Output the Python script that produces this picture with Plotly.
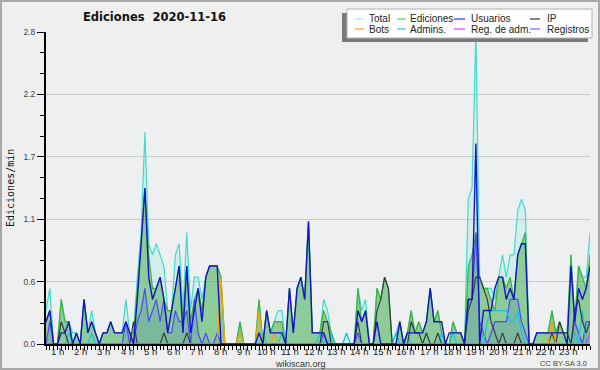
import plotly.graph_objects as go

# ---- data: edits per minute, 10-minute steps over the day (144 points) ----
hour_labels = [f"{h} h" for h in range(1, 24)]

total = [
    0.3, 0.5, 0.0, 0.0, 0.4, 0.2,   0.2, 0.1, 0.1, 0.0, 0.4, 0.1,
    0.3, 0.1, 0.0, 0.1, 0.1, 0.2,   0.1, 0.1, 0.1, 0.4, 0.1, 0.1,
    0.6, 1.0, 1.9, 0.9, 0.8, 0.9,   0.8, 0.7, 0.3, 0.3, 0.8, 0.9,
    0.3, 1.0, 0.3, 0.6, 0.6, 0.4,   0.6, 0.7, 0.7, 0.7, 0.6, 0.0,
    0.0, 0.0, 0.0, 0.2, 0.0, 0.0,   0.0, 0.0, 0.4, 0.0, 0.3, 0.1,
    0.2, 0.3, 0.3, 0.0, 0.5, 0.1,   0.5, 0.6, 0.4, 1.1, 0.1, 0.1,
    0.1, 0.4, 0.3, 0.1, 0.0, 0.0,   0.0, 0.1, 0.0, 0.0, 0.5, 0.3,
    0.4, 0.0, 0.0, 0.5, 0.4, 0.6,   0.5, 0.0, 0.1, 0.2, 0.0, 0.1,
    0.3, 0.1, 0.2, 0.1, 0.2, 0.5,   0.2, 0.3, 0.1, 0.0, 0.0, 0.2,
    0.1, 0.1, 0.0, 1.3, 1.4, 2.8,   0.6, 0.5, 0.5, 0.5, 0.4, 0.6,
    0.8, 0.6, 0.8, 0.8, 1.2, 1.3,   1.2, 0.0, 0.0, 0.1, 0.1, 0.1,
    0.1, 0.3, 0.1, 0.2, 0.1, 0.1,   0.8, 0.2, 0.7, 0.6, 0.6, 1.0,
]
ediciones = [
    0.2, 0.3, 0.0, 0.0, 0.4, 0.2,   0.2, 0.0, 0.1, 0.0, 0.4, 0.1,
    0.2, 0.1, 0.0, 0.1, 0.1, 0.2,   0.1, 0.1, 0.1, 0.2, 0.1, 0.1,
    0.5, 0.9, 1.4, 0.8, 0.5, 0.5,   0.6, 0.4, 0.3, 0.3, 0.5, 0.7,
    0.2, 0.7, 0.2, 0.4, 0.5, 0.3,   0.6, 0.7, 0.7, 0.7, 0.6, 0.0,
    0.0, 0.0, 0.0, 0.2, 0.0, 0.0,   0.0, 0.0, 0.4, 0.0, 0.3, 0.1,
    0.2, 0.2, 0.2, 0.0, 0.5, 0.1,   0.5, 0.6, 0.4, 1.1, 0.1, 0.1,
    0.1, 0.3, 0.2, 0.1, 0.0, 0.0,   0.0, 0.0, 0.0, 0.0, 0.5, 0.2,
    0.3, 0.0, 0.0, 0.5, 0.4, 0.6,   0.5, 0.0, 0.0, 0.2, 0.0, 0.1,
    0.3, 0.1, 0.2, 0.1, 0.2, 0.5,   0.2, 0.3, 0.1, 0.0, 0.0, 0.2,
    0.1, 0.1, 0.0, 0.7, 0.8, 1.0,   0.6, 0.5, 0.5, 0.4, 0.3, 0.6,
    0.6, 0.5, 0.6, 0.4, 0.8, 0.9,   1.0, 0.0, 0.0, 0.1, 0.1, 0.1,
    0.1, 0.3, 0.1, 0.2, 0.1, 0.1,   0.8, 0.2, 0.7, 0.6, 0.5, 0.8,
]
usuarios = [
    0.2, 0.3, 0.0, 0.0, 0.1, 0.1,   0.2, 0.0, 0.1, 0.0, 0.4, 0.1,
    0.2, 0.1, 0.0, 0.1, 0.1, 0.2,   0.1, 0.1, 0.1, 0.2, 0.1, 0.0,
    0.4, 0.9, 1.4, 0.6, 0.4, 0.5,   0.6, 0.4, 0.1, 0.3, 0.5, 0.7,
    0.1, 0.7, 0.1, 0.3, 0.5, 0.2,   0.6, 0.7, 0.7, 0.7, 0.0, 0.0,
    0.0, 0.0, 0.0, 0.0, 0.0, 0.0,   0.0, 0.0, 0.1, 0.0, 0.3, 0.1,
    0.1, 0.1, 0.1, 0.0, 0.5, 0.1,   0.5, 0.6, 0.4, 1.1, 0.1, 0.1,
    0.1, 0.1, 0.0, 0.0, 0.0, 0.0,   0.0, 0.0, 0.0, 0.0, 0.3, 0.2,
    0.3, 0.0, 0.0, 0.2, 0.0, 0.0,   0.0, 0.0, 0.0, 0.2, 0.0, 0.1,
    0.1, 0.1, 0.1, 0.1, 0.2, 0.5,   0.2, 0.2, 0.2, 0.0, 0.1, 0.1,
    0.1, 0.1, 0.0, 0.4, 0.4, 1.8,   0.0, 0.3, 0.3, 0.3, 0.5, 0.6,
    0.6, 0.4, 0.5, 0.4, 0.8, 0.9,   0.9, 0.0, 0.0, 0.1, 0.1, 0.1,
    0.1, 0.1, 0.1, 0.1, 0.1, 0.0,   0.7, 0.2, 0.5, 0.4, 0.5, 0.7,
]
ip = [
    0.0, 0.0, 0.0, 0.0, 0.2, 0.1,   0.0, 0.0, 0.0, 0.0, 0.0, 0.0,
    0.0, 0.0, 0.0, 0.0, 0.0, 0.0,   0.0, 0.0, 0.0, 0.0, 0.0, 0.2,
    0.0, 0.0, 0.0, 0.0, 0.0, 0.0,   0.0, 0.1, 0.0, 0.0, 0.0, 0.0,
    0.0, 0.1, 0.0, 0.0, 0.0, 0.0,   0.0, 0.0, 0.0, 0.0, 0.0, 0.0,
    0.0, 0.0, 0.0, 0.0, 0.0, 0.0,   0.0, 0.0, 0.0, 0.0, 0.0, 0.0,
    0.0, 0.0, 0.0, 0.0, 0.0, 0.0,   0.0, 0.0, 0.0, 0.0, 0.0, 0.0,
    0.0, 0.2, 0.2, 0.0, 0.0, 0.0,   0.0, 0.0, 0.0, 0.0, 0.2, 0.0,
    0.0, 0.0, 0.0, 0.3, 0.4, 0.6,   0.5, 0.0, 0.0, 0.0, 0.0, 0.0,
    0.2, 0.1, 0.1, 0.0, 0.1, 0.0,   0.0, 0.1, 0.0, 0.0, 0.0, 0.0,
    0.0, 0.0, 0.0, 0.3, 0.4, 0.6,   0.6, 0.5, 0.4, 0.2, 0.1, 0.0,
    0.1, 0.0, 0.0, 0.0, 0.1, 0.0,   0.0, 0.0, 0.0, 0.0, 0.0, 0.0,
    0.0, 0.1, 0.0, 0.2, 0.1, 0.1,   0.0, 0.3, 0.4, 0.2, 0.1, 0.2,
]
registros = [
    0.0, 0.2, 0.0, 0.0, 0.0, 0.0,   0.0, 0.0, 0.0, 0.0, 0.0, 0.0,
    0.0, 0.0, 0.0, 0.0, 0.0, 0.0,   0.0, 0.0, 0.0, 0.2, 0.0, 0.0,
    0.2, 0.3, 0.5, 0.2, 0.3, 0.4,   0.2, 0.4, 0.1, 0.1, 0.3, 0.2,
    0.2, 0.3, 0.0, 0.4, 0.1, 0.0,   0.1, 0.0, 0.0, 0.1, 0.0, 0.0,
    0.0, 0.0, 0.0, 0.0, 0.0, 0.0,   0.0, 0.0, 0.0, 0.0, 0.0, 0.0,
    0.0, 0.0, 0.0, 0.0, 0.0, 0.0,   0.0, 0.0, 0.0, 0.0, 0.0, 0.0,
    0.0, 0.1, 0.0, 0.0, 0.0, 0.0,   0.0, 0.0, 0.0, 0.0, 0.1, 0.0,
    0.0, 0.0, 0.0, 0.0, 0.0, 0.0,   0.0, 0.0, 0.0, 0.0, 0.0, 0.0,
    0.0, 0.0, 0.0, 0.0, 0.0, 0.0,   0.0, 0.0, 0.0, 0.0, 0.0, 0.0,
    0.0, 0.0, 0.0, 0.4, 0.4, 1.0,   0.2, 0.1, 0.0, 0.1, 0.2, 0.2,
    0.2, 0.2, 0.4, 0.4, 0.4, 0.2,   0.1, 0.0, 0.0, 0.0, 0.0, 0.0,
    0.0, 0.0, 0.0, 0.0, 0.0, 0.0,   0.0, 0.2, 0.1, 0.0, 0.2, 0.2,
]
admins = [
    0.0, 0.0, 0.0, 0.0, 0.0, 0.0,   0.1, 0.0, 0.0, 0.0, 0.0, 0.0,
    0.1, 0.0, 0.0, 0.0, 0.0, 0.0,   0.0, 0.0, 0.0, 0.0, 0.0, 0.0,
    0.0, 0.0, 0.0, 0.0, 0.0, 0.0,   0.0, 0.0, 0.0, 0.0, 0.0, 0.0,
    0.0, 0.0, 0.0, 0.0, 0.0, 0.0,   0.0, 0.0, 0.0, 0.0, 0.0, 0.0,
    0.0, 0.0, 0.0, 0.0, 0.0, 0.0,   0.0, 0.0, 0.1, 0.1, 0.0, 0.0,
    0.0, 0.0, 0.1, 0.0, 0.0, 0.0,   0.0, 0.0, 0.0, 0.0, 0.0, 0.0,
    0.1, 0.0, 0.0, 0.1, 0.0, 0.0,   0.0, 0.1, 0.0, 0.0, 0.0, 0.0,
    0.0, 0.0, 0.0, 0.0, 0.0, 0.0,   0.0, 0.0, 0.1, 0.0, 0.0, 0.1,
    0.0, 0.0, 0.0, 0.0, 0.1, 0.0,   0.0, 0.0, 0.1, 0.0, 0.0, 0.1,
    0.0, 0.0, 0.0, 0.0, 0.0, 0.0,   0.0, 0.0, 0.2, 0.3, 0.3, 0.3,
    0.3, 0.3, 0.2, 0.2, 0.3, 0.1,   0.0, 0.0, 0.0, 0.0, 0.0, 0.0,
    0.0, 0.0, 0.0, 0.0, 0.0, 0.0,   0.0, 0.1, 0.0, 0.3, 0.0, 0.0,
]
bots = [0.0] * 46 + [0.6] + [0.0] * 4 + [0.1] + [0.0] * 4 + [0.3] + [0.0] * 3 + [0.1] \
    + [0.0] * 72 + [0.2] + [0.0] * 10
reg_adm = [0.0] * 143 + [0.1]

x_hours = [i / 6 for i in range(len(total))]

# ---- geometry helpers (pixel -> paper) ----
L, R, T, B = 46, 10, 32, 26
W, H = 600, 370
PW, PH = W - L - R, H - T - B


def px(x):
    return (x - L) / PW


def py(y):
    return (H - B - y) / PH


fig = go.Figure()


def add(name, y, color, width=1.2, fill=None, fillcolor=None):
    fig.add_trace(go.Scatter(
        x=x_hours, y=y, name=name, mode="lines",
        line=dict(color=color, width=width),
        fill=fill, fillcolor=fillcolor, showlegend=False, hoverinfo="skip"))


add("Total", total, "#3fdccb", fill="tozeroy", fillcolor="rgba(64,224,208,0.15)")
add("Ediciones", ediciones, "#3cb43c", fill="tozeroy", fillcolor="rgba(70,170,70,0.5)")
add("Registros", registros, "#4a4aff", fill="tozeroy", fillcolor="rgba(30,80,200,0.15)")
add("Admins.", admins, "#18c4e0")
add("IP", ip, "#3a3a3a")
add("Bots", bots, "#ffa000")
add("Reg. de adm.", reg_adm, "#d040f0")
add("Usuarios", usuarios, "#1414c8", width=1.4)

shapes = []
annotations = []

# outer border
shapes.append(dict(type="rect", xref="paper", yref="paper",
                   x0=px(1), x1=px(599), y0=py(1), y1=py(369),
                   line=dict(color="#a8a8a8", width=2), fillcolor="rgba(0,0,0,0)", layer="below"))

# legend box with shadow
shapes.append(dict(type="rect", xref="paper", yref="paper",
                   x0=px(342), x1=px(588), y0=py(13), y1=py(42),
                   line=dict(width=0), fillcolor="#7a7a7a"))
shapes.append(dict(type="rect", xref="paper", yref="paper",
                   x0=px(347), x1=px(592), y0=py(9), y1=py(38),
                   line=dict(color="#b0b0b0", width=1), fillcolor="white"))

legend_items = [
    ("Total", "#a4ebe4"), ("Ediciones", "#66cc66"), ("Usuarios", "#3333ee"), ("IP", "#333333"),
    ("Bots", "#ffa020"), ("Admins.", "#33ccdd"), ("Reg. de adm.", "#dd44ee"), ("Registros", "#7070ff"),
]
col_line = [(355, 364), (397, 406), (454, 465), (530, 540)]
col_text = [367, 408, 469, 545]
row_y = [19, 29]
for k, (name, color) in enumerate(legend_items):
    r, c = divmod(k, 4)
    shapes.append(dict(type="line", xref="paper", yref="paper",
                       x0=px(col_line[c][0]), x1=px(col_line[c][1]),
                       y0=py(row_y[r]), y1=py(row_y[r]),
                       line=dict(color=color, width=1.2)))
    annotations.append(dict(text=name, xref="paper", yref="paper",
                            x=px(col_text[c]), y=py(row_y[r]), xanchor="left", yanchor="middle",
                            showarrow=False, font=dict(family="Liberation Sans", size=10, color="#222")))

# hour labels
for n, lab in enumerate(hour_labels, start=1):
    cx = 57.5 + 23.23 * (n - 1)
    annotations.append(dict(text=lab, xref="paper", yref="paper", x=px(cx), y=py(351.5),
                            xanchor="center", yanchor="middle", showarrow=False,
                            font=dict(family="Liberation Sans", size=9.5, color="#222")))

# title, axis title, footer
annotations.append(dict(text="<b>Ediciones  2020-11-16</b>", xref="paper", yref="paper",
                        x=px(154), y=py(17), xanchor="center", yanchor="middle", showarrow=False,
                        font=dict(family="DejaVu Sans", size=11.5, color="#111")))
annotations.append(dict(text="Ediciones/min", xref="paper", yref="paper",
                        x=px(10), y=py(188), xanchor="center", yanchor="middle", showarrow=False,
                        textangle=-90, font=dict(family="DejaVu Sans Mono", size=10, color="#111")))
annotations.append(dict(text="wikiscan.org", xref="paper", yref="paper",
                        x=px(300), y=py(363.5), xanchor="center", yanchor="middle", showarrow=False,
                        font=dict(family="Liberation Sans", size=9, color="#333")))
annotations.append(dict(text="CC BY-SA 3.0", xref="paper", yref="paper",
                        x=px(589), y=py(363), xanchor="right", yanchor="middle", showarrow=False,
                        font=dict(family="Liberation Sans", size=7.5, color="#444")))

fig.update_layout(
    width=W, height=H,
    margin=dict(l=L, r=R, t=T, b=B, pad=0),
    paper_bgcolor="#efefef", plot_bgcolor="#eeeff0",
    shapes=shapes, annotations=annotations, showlegend=False,
    xaxis=dict(range=[0, x_hours[-1]], tickmode="linear", tick0=0, dtick=1 / 6,
               ticks="outside", ticklen=4, tickwidth=1, tickcolor="black",
               showticklabels=False, showgrid=False, zeroline=False,
               showline=True, linecolor="black", linewidth=2, fixedrange=True),
    yaxis=dict(range=[0, 2.8], tickmode="linear", tick0=0, dtick=0.56, tickformat=".1f",
               ticks="outside", ticklen=7, tickwidth=1, tickcolor="black",
               tickfont=dict(family="Liberation Sans", size=8.5, color="#444"),
               showgrid=True, gridcolor="#cccccc", gridwidth=1, zeroline=False,
               showline=True, linecolor="black", linewidth=2,
               minor=dict(tickmode="linear", tick0=0, dtick=0.56 / 3, ticks="outside",
                          ticklen=4, tickcolor="black", showgrid=False),
               fixedrange=True),
)

fig.write_html("out.html", config={"displayModeBar": False},
               post_script="document.body.style.margin='0';")
